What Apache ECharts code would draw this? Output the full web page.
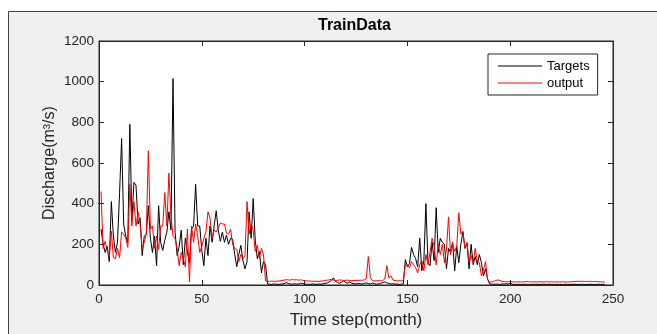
<!DOCTYPE html>
<html>
<head>
<meta charset="utf-8">
<script src="https://cdn.jsdelivr.net/npm/echarts@6.0.0/dist/echarts.min.js"></script>
<style>html,body{margin:0;padding:0;background:#fff}#chart{width:657px;height:334px}</style>
</head>
<body>
<div id="chart"></div>
<script>
// Targets (black) and network output (red), one value per month, months 1..246
var targets = [
  275,200,160,190,115,410,240,160,210,450,
  720,300,240,210,790,320,505,490,300,330,
  145,240,250,390,230,160,240,95,390,210,
  170,220,260,360,270,1015,260,145,190,270,
  100,230,160,110,275,290,495,290,290,170,
  95,230,145,290,210,290,365,270,215,260,
  210,245,200,230,225,150,90,150,195,120,
  80,115,360,230,425,220,130,165,60,115,
  100,5,
  4,3,5,4,3,4,5,6,
  12,8,5,4,6,5,4,9,7,5,
  4,3,4,5,4,3,5,4,6,8,
  10,15,22,35,18,12,8,14,20,12,
  9,15,8,6,5,7,6,5,8,10,
  7,5,10,6,4,5,8,12,15,10,
  8,5,6,4,5,3,4,5,
  125,90,105,185,150,130,90,230,70,120,
  400,110,95,210,120,380,160,230,210,200,
  80,180,160,210,70,190,110,200,260,180,
  205,80,200,100,140,100,150,110,45,80,
  30,5,
  5,3,4,4,3,5,4,6,4,10,
  4,3,3,4,3,3,4,3,3,3,
  3,4,3,3,3,4,3,3,4,3,
  3,3,4,3,3,3,4,3,3,3,
  4,3,3,3,4,3,3,3,4,3,
  3,3,4,3,3,3
];
var output = [
  460,180,215,170,140,265,135,130,180,135,
  260,250,230,185,495,290,410,290,360,300,
  180,210,250,660,275,290,180,240,175,290,
  290,455,290,550,340,240,230,180,95,160,
  130,90,275,15,290,210,300,240,160,190,
  230,260,360,330,230,270,260,280,305,300,
  300,255,250,275,200,180,175,115,150,130,
  145,410,250,300,270,165,195,130,180,150,
  20,
  18,18,19,18,18,19,20,22,24,
  26,25,24,27,25,26,24,25,23,22,
  20,20,19,18,19,18,18,19,20,22,
  24,25,28,24,22,23,25,24,22,23,
  24,22,21,22,23,22,24,23,25,30,
  140,35,22,20,21,22,20,22,30,95,
  35,45,24,22,20,21,20,22,
  100,100,85,115,100,85,60,100,120,70,
  150,100,160,230,190,100,200,150,200,110,
  175,335,150,205,165,190,355,250,265,180,
  210,110,145,110,180,115,110,45,75,115,
  25,15,
  15,18,22,25,22,18,16,15,16,17,
  16,15,15,16,15,15,16,17,16,15,
  15,16,15,15,16,15,15,16,15,16,
  15,15,16,15,15,16,15,15,15,16,
  17,18,18,18,18,18,17,18,18,17,
  17,17,16,16,15,15
];
var seriesNames = ['Targets', 'output'];
var seriesColors = ['#000000', '#ff0000'];

var font = "'Liberation Sans', Arial, sans-serif";
var ink = '#262626';
// thin horizontal bar inside a 44x14 box, used as the legend key
var lineIcon = 'path://M0,0 L0,0 M0,14 L0,14 M0,6.5 L44,6.5 L44,7.5 L0,7.5 Z';

function pairs(arr) {
  return arr.map(function (v, i) { return [i + 1, v]; });
}
function plain(v) { return String(v); }

function xAx(pos, withLabels) {
  return {
    type: 'value', min: 0, max: 250, interval: 50, position: pos,
    axisLine: { show: true, onZero: false, lineStyle: { color: ink, width: 1 } },
    axisTick: { show: true, inside: true, length: 5, lineStyle: { color: ink } },
    axisLabel: { show: withLabels, color: ink, fontSize: 13.5, margin: 7, fontFamily: font, formatter: plain },
    splitLine: { show: false },
    name: withLabels ? 'Time step(month)' : '',
    nameLocation: 'middle', nameGap: 27, nameMoveOverlap: false,
    nameTextStyle: { fontSize: 17, color: ink, fontFamily: font }
  };
}
function yAx(pos, withLabels) {
  return {
    type: 'value', min: 0, max: 1200, interval: 200, position: pos,
    axisLine: { show: true, onZero: false, lineStyle: { color: ink, width: 1 } },
    axisTick: { show: true, inside: true, length: 5, lineStyle: { color: ink } },
    axisLabel: { show: withLabels, color: ink, fontSize: 13.5, margin: 5, fontFamily: font, formatter: plain },
    splitLine: { show: false },
    name: withLabels ? 'Discharge(m³/s)' : '',
    nameLocation: 'middle', nameGap: 41, nameMoveOverlap: false,
    nameTextStyle: { fontSize: 16, color: ink, fontFamily: font }
  };
}

var chart = echarts.init(document.getElementById('chart'));
chart.setOption({
  animation: false,
  backgroundColor: '#fff',
  graphic: [{
    type: 'rect', left: 8, top: 11, z: -10, silent: true,
    shape: { width: 700, height: 400 },
    style: { fill: '#f0f0f0', stroke: '#444', lineWidth: 1 }
  }],
  title: {
    text: 'TrainData', left: 318, top: 18, padding: 0,
    textStyle: { fontSize: 16, fontWeight: 'bold', color: '#000', fontFamily: font }
  },
  legend: {
    data: seriesNames, icon: lineIcon,
    orient: 'vertical', left: 488, top: 54,
    itemWidth: 44, itemHeight: 14, itemGap: 3, padding: [5, 8, 5, 10],
    backgroundColor: '#fff', borderColor: ink, borderWidth: 1, borderRadius: 0,
    textStyle: { fontSize: 13, color: '#000', fontFamily: font }
  },
  grid: {
    left: 99, right: 44, top: 41, bottom: 48,
    show: true, backgroundColor: '#fff', borderColor: ink, borderWidth: 1
  },
  xAxis: [xAx('bottom', true), xAx('top', false)],
  yAxis: [yAx('left', true), yAx('right', false)],
  series: [
    { name: seriesNames[0], type: 'line', data: pairs(targets), symbol: 'none',
      lineStyle: { color: seriesColors[0], width: 1 }, itemStyle: { color: seriesColors[0] } },
    { name: seriesNames[1], type: 'line', data: pairs(output), symbol: 'none',
      lineStyle: { color: seriesColors[1], width: 1 }, itemStyle: { color: seriesColors[1] } }
  ]
});
</script>
</body>
</html>
